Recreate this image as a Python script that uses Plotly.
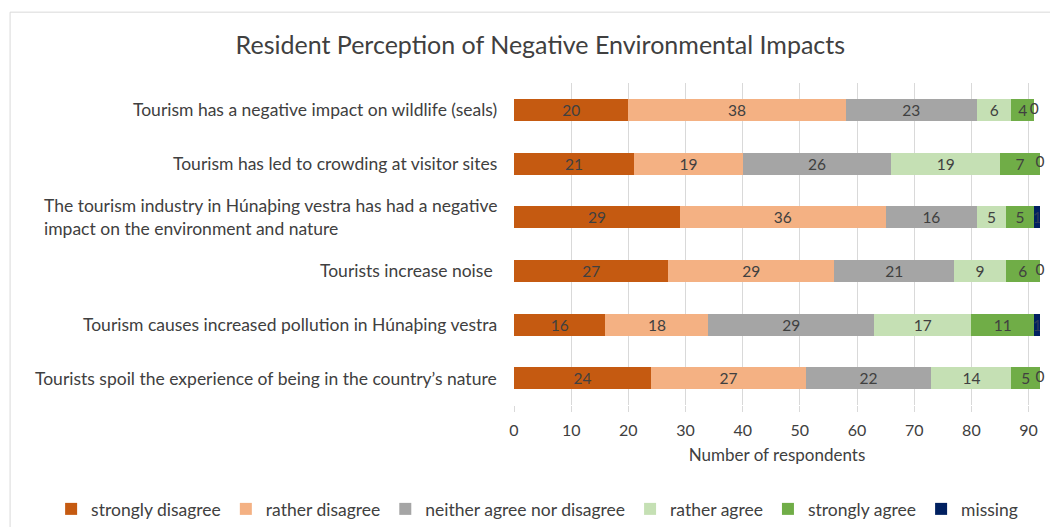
import plotly.graph_objects as go

# statements, top to bottom
statements = [
    "Tourism has a negative impact on wildlife (seals)",
    "Tourism has led to crowding at visitor sites",
    "The tourism industry in Húnaþing vestra has had a negative<br>impact on the environment and nature",
    "Tourists increase noise ",
    "Tourism causes increased pollution in Húnaþing vestra",
    "Tourists spoil the experience of being in the country’s nature",
]

strongly_disagree = [20, 21, 29, 27, 16, 24]
rather_disagree = [38, 19, 36, 29, 18, 27]
neither = [23, 26, 16, 21, 29, 22]
rather_agree = [6, 19, 5, 9, 17, 14]
strongly_agree = [4, 7, 5, 6, 11, 5]
missing = [0, 0, 1, 0, 1, 0]

series = [
    ("strongly disagree", strongly_disagree, "#C55A11"),
    ("rather disagree", rather_disagree, "#F4B183"),
    ("neither agree nor disagree", neither, "#A5A5A5"),
    ("rather agree", rather_agree, "#C5E0B4"),
    ("strongly agree", strongly_agree, "#70AD47"),
    ("missing", missing, "#002060"),
]

FONT = "Lato"
TXT = "#404040"

fig = go.Figure()
for name, vals, col in series:
    fig.add_trace(go.Bar(
        y=statements, x=vals, name=name, orientation="h",
        marker_color=col, marker_line_width=0,
        text=vals, textposition="inside", textangle=0,
        insidetextanchor="middle",
        textfont=dict(color="#2a3a5a" if name == "missing" else TXT, size=15.5, family=FONT),
        width=0.41,
    ))

# zero labels for "missing" shown at the end of each bar (like Excel does)
totals = [sum(v) for v in zip(*[s[1] for s in series])]
zero_rows = [i for i, m in enumerate(missing) if m == 0]
fig.add_trace(go.Scatter(
    y=[statements[i] for i in zero_rows], x=[totals[i] for i in zero_rows],
    mode="text", text=["0"] * len(zero_rows), textposition="middle center",
    textfont=dict(color=TXT, size=15.5, family=FONT),
    showlegend=False, cliponaxis=False, hoverinfo="skip",
))

# y labels as annotations so the wrapped one stays left aligned
for s in statements:
    fig.add_annotation(
        x=0, xref="paper", y=s, yref="y", text=s, showarrow=False,
        xanchor="right", align="left", xshift=-15,
        font=dict(family=FONT, size=17.5, color=TXT),
    )

# light frame around the chart
fig.add_shape(type="rect", xref="paper", yref="paper",
              x0=-0.958, x1=1.2, y0=-0.6, y1=1.22,
              line=dict(color="#D9D9D9", width=1))

fig.update_layout(
    width=1050, height=519,
    barmode="stack",
    uniformtext=dict(mode="show", minsize=15.5),
    plot_bgcolor="white", paper_bgcolor="white",
    margin=dict(l=506, r=18, t=75, b=122, autoexpand=False),
    font=dict(family=FONT, color=TXT),
    title=dict(text="Resident Perception of Negative Environmental Impacts",
               x=0.507, xref="container", y=0.929, yref="container",
               xanchor="center", yanchor="middle",
               font=dict(size=25, color=TXT, family=FONT)),
    legend=dict(orientation="h", x=-0.88, xanchor="left",
                y=-0.323, yanchor="middle",
                font=dict(size=17.5, color=TXT, family=FONT),
                traceorder="normal", itemwidth=30),
    showlegend=True,
)
fig.update_xaxes(range=[0, 92], dtick=10, showgrid=True, gridcolor="#D9D9D9",
                 zeroline=False, ticks="outside", tickcolor="#D9D9D9", ticklen=6,
                 tickfont=dict(size=16, color=TXT), ticklabelstandoff=5,
                 title=dict(text="Number of respondents", font=dict(size=17, color=TXT),
                            standoff=10))
fig.update_yaxes(autorange="reversed", showticklabels=False, showgrid=False)

fig.write_html("out.html")
